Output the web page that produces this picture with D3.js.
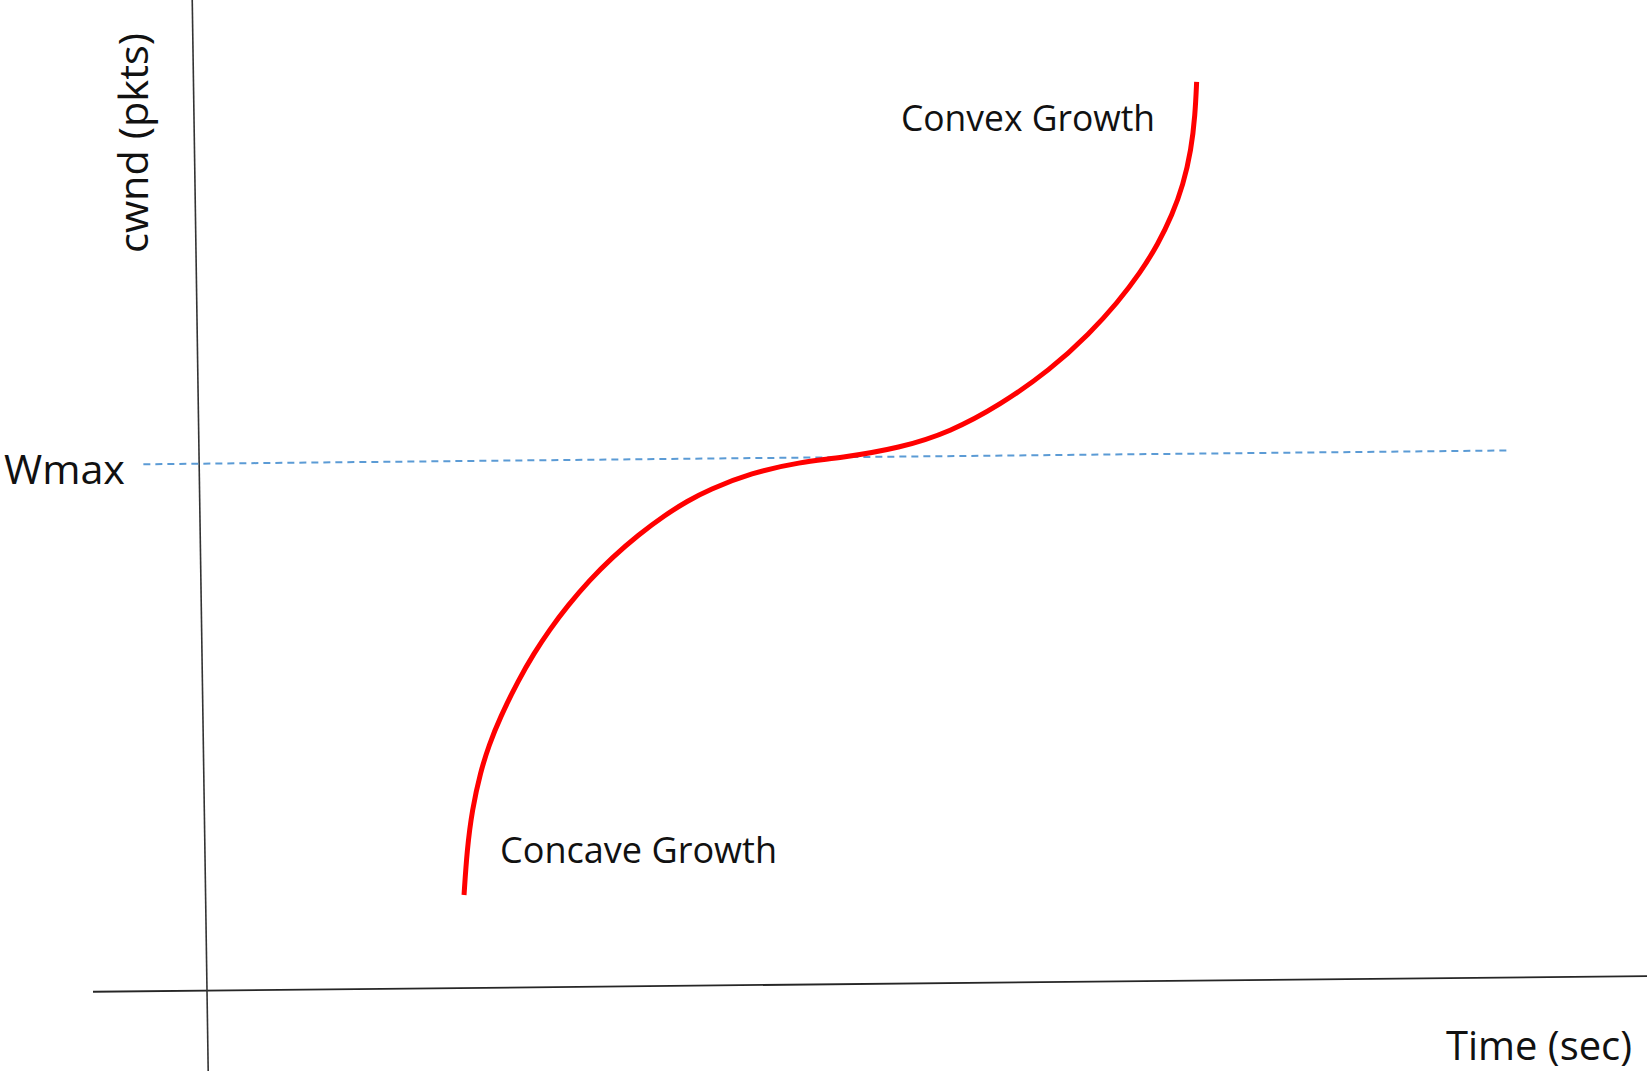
<!DOCTYPE html>
<html>
<head>
<meta charset="utf-8">
<script src="https://cdn.jsdelivr.net/npm/d3@7"></script>
<style>
  html, body { margin: 0; padding: 0; background: #fff; }
  svg { display: block; }
  text { font-family: "Open Sans", "Noto Sans", sans-serif; fill: #111; }
</style>
</head>
<body>
<svg width="1647" height="1071"></svg>
<script>
const width = 1647;
const height = 1071;

// cubic window growth (time in sec, cwnd in pkts, Wmax = 100)
const wmax = 100;
const time = [4.307, 4.368, 4.462, 4.611, 4.761, 4.948, 5.267, 5.536, 5.795, 6.101, 6.480,
              6.849, 7.297, 7.752, 8.128, 8.479, 9.192, 10.020, 10.682,
              11.685, 12.522, 13.362, 14.204, 14.880, 15.338, 15.728, 16.035, 16.276,
              16.467, 16.609, 16.684, 16.717];
const cwnd = [17.65, 26.18, 33.76, 40.96, 46.06, 51.17, 58.34, 63.44, 67.77, 72.29, 77.18,
              81.31, 85.63, 89.37, 91.98, 94.03, 97.18, 99.17, 99.85,
              101.63, 104.57, 109.60, 116.15, 123.09, 128.73, 134.38, 139.85, 145.33,
              151.0, 157.62, 164.26, 170.52];

const xExtent = [-1.9, 24];      // time axis
const yExtent = [-15.5, 188];    // cwnd axis
const wmaxExtent = [-0.93, 21.85];

const svg = d3.select('svg');

const x = d3.scaleLinear().domain([0, 24]).range([0, 1440]);
const y = d3.scaleLinear().domain([0, 188]).range([0, -990.6]);

// the drawing is slightly tilted
const g = svg.append('g')
  .attr('transform', 'matrix(1,-0.0101,0.0149,1,207,990.6)');

g.append('line')
  .attr('x1', x(xExtent[0])).attr('x2', x(xExtent[1]))
  .attr('y1', y(0)).attr('y2', y(0))
  .attr('stroke', '#262626').attr('stroke-width', 1.8);

g.append('line')
  .attr('x1', x(0)).attr('x2', x(0))
  .attr('y1', y(yExtent[0])).attr('y2', y(yExtent[1]))
  .attr('stroke', '#333').attr('stroke-width', 1.6);

g.append('line')
  .attr('x1', x(wmaxExtent[0])).attr('x2', x(wmaxExtent[1]))
  .attr('y1', y(wmax)).attr('y2', y(wmax))
  .attr('stroke', '#5b9bd5').attr('stroke-width', 2)
  .attr('stroke-dasharray', '7,5');

const line = d3.line()
  .x((d, i) => x(time[i]))
  .y(d => y(d))
  .curve(d3.curveBasis);

g.append('path')
  .datum(cwnd)
  .attr('d', line)
  .attr('fill', 'none')
  .attr('stroke', '#ff0000')
  .attr('stroke-width', 5);

// labels
svg.append('text')
  .attr('x', 4).attr('y', 484)
  .attr('font-size', 40)
  .attr('textLength', 121).attr('lengthAdjust', 'spacingAndGlyphs')
  .text('Wmax');

svg.append('text')
  .attr('transform', 'translate(148,143) rotate(-90)')
  .attr('text-anchor', 'middle')
  .attr('font-size', 40)
  .attr('textLength', 220).attr('lengthAdjust', 'spacingAndGlyphs')
  .text('cwnd (pkts)');

svg.append('text')
  .attr('x', 1446).attr('y', 1060)
  .attr('font-size', 40)
  .attr('textLength', 186).attr('lengthAdjust', 'spacingAndGlyphs')
  .text('Time (sec)');

svg.append('text')
  .attr('x', 901).attr('y', 131)
  .attr('font-size', 36)
  .attr('textLength', 254).attr('lengthAdjust', 'spacingAndGlyphs')
  .text('Convex Growth');

svg.append('text')
  .attr('x', 500).attr('y', 863)
  .attr('font-size', 36)
  .attr('textLength', 277).attr('lengthAdjust', 'spacingAndGlyphs')
  .text('Concave Growth');
</script>
</body>
</html>
